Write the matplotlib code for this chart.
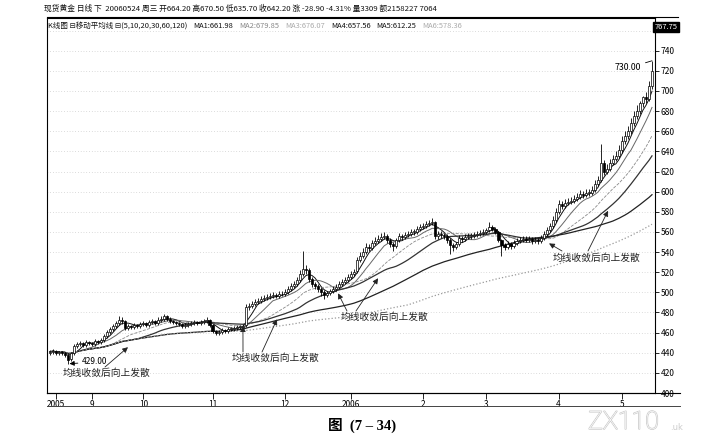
import numpy as np
import pandas as pd
import matplotlib
matplotlib.use("Agg")
import matplotlib.pyplot as plt
import matplotlib.patheffects as pe
from matplotlib.lines import Line2D

plt.rcParams['font.family'] = ['Noto Sans CJK SC', 'DejaVu Sans']

# daily candles, Aug 2005 - May 2006
opens = [
    440, 441, 442, 440, 441, 440, 438, 434, 440, 447,
    449, 450, 448, 451, 450, 449, 452, 451, 453, 457,
    461, 464, 467, 470, 473, 472, 465, 467, 466, 468,
    467, 469, 470, 468, 471, 472, 470, 473, 474, 476,
    474, 472, 471, 470, 469, 467, 468, 469, 470, 471,
    470, 471, 472, 473, 468, 462, 460, 461, 463, 462,
    464, 464, 465, 466, 466, 468, 485, 486, 488, 490,
    491, 493, 494, 495, 496, 497, 496, 498, 498, 500,
    503, 506, 508, 512, 518, 523, 522, 513, 508, 506,
    503, 500, 497, 499, 501, 503, 505, 508, 510, 512,
    515, 518, 521, 532, 536, 540, 545, 544, 549, 551,
    553, 555, 556, 552, 548, 546, 552, 556, 555, 557,
    558, 560, 560, 563, 565, 566, 568, 569, 570, 556,
    558, 557, 556, 552, 547, 545, 548, 554, 553, 555,
    556, 556, 557, 558, 559, 560, 562, 565, 563, 560,
    552, 547, 545, 548, 546, 549, 551, 552, 553, 552,
    553, 551, 552, 551, 554, 558, 562, 566, 572, 580,
    588, 586, 589, 590, 591, 593, 595, 598, 597, 599,
    599, 602, 608, 612, 628, 620, 623, 628, 632, 635,
    641, 650, 655, 660, 668, 675, 680, 688, 694, 692,
    705,
]
highs = [
    443, 444, 443, 442, 442, 441, 439, 441, 449, 451,
    452, 451, 453, 452, 451, 454, 453, 455, 459, 463,
    466, 469, 472, 476, 475, 473, 469, 468, 470, 469,
    471, 472, 471, 473, 474, 473, 475, 476, 478, 477,
    475, 473, 472, 471, 470, 470, 471, 472, 473, 472,
    473, 474, 475, 474, 469, 463, 463, 465, 464, 466,
    466, 467, 468, 468, 469, 488, 489, 491, 493, 494,
    496, 497, 498, 499, 500, 499, 501, 501, 503, 506,
    509, 511, 515, 522, 541, 527, 524, 515, 510, 508,
    505, 502, 501, 503, 506, 508, 511, 513, 515, 518,
    521, 523, 535, 540, 544, 549, 548, 552, 555, 557,
    559, 560, 558, 554, 550, 554, 559, 558, 560, 561,
    563, 563, 566, 568, 569, 571, 572, 574, 571, 561,
    561, 559, 558, 554, 549, 550, 557, 556, 558, 559,
    559, 560, 561, 562, 563, 564, 570, 567, 565, 561,
    553, 549, 551, 550, 552, 554, 555, 556, 556, 556,
    555, 555, 554, 557, 561, 565, 569, 576, 584, 592,
    591, 593, 594, 595, 597, 599, 602, 601, 603, 603,
    606, 612, 616, 647, 631, 627, 632, 636, 640, 646,
    655, 660, 665, 673, 680, 686, 690, 695, 699, 710,
    730,
]
lows = [
    438, 439, 438, 438, 438, 436, 429, 432, 438, 445,
    447, 446, 446, 448, 447, 447, 449, 449, 451, 455,
    459, 462, 465, 468, 469, 463, 463, 464, 464, 465,
    465, 467, 466, 466, 469, 468, 468, 471, 472, 472,
    470, 469, 468, 467, 465, 465, 466, 467, 468, 468,
    468, 469, 470, 466, 460, 458, 458, 459, 460, 460,
    462, 462, 463, 464, 464, 466, 482, 484, 486, 488,
    489, 491, 492, 493, 494, 494, 494, 496, 496, 498,
    501, 504, 506, 510, 516, 518, 510, 505, 503, 500,
    496, 493, 495, 497, 499, 501, 503, 506, 508, 510,
    513, 516, 519, 530, 534, 538, 541, 542, 547, 549,
    551, 553, 549, 545, 541, 544, 550, 552, 553, 555,
    556, 557, 558, 561, 563, 564, 566, 567, 553, 553,
    554, 553, 549, 538, 541, 543, 546, 550, 551, 553,
    553, 554, 555, 556, 557, 558, 560, 561, 558, 550,
    536, 542, 543, 543, 544, 547, 549, 550, 550, 550,
    548, 549, 548, 549, 552, 556, 560, 564, 570, 578,
    583, 584, 587, 588, 589, 591, 593, 594, 595, 596,
    597, 600, 606, 610, 617, 618, 621, 626, 630, 633,
    638, 647, 652, 657, 665, 672, 677, 684, 688, 690,
    702,
]
closes = [
    441, 442, 440, 441, 440, 438, 433, 440, 447, 449,
    450, 448, 451, 450, 449, 452, 451, 453, 457, 461,
    464, 467, 470, 473, 472, 465, 467, 466, 468, 467,
    469, 470, 468, 471, 472, 470, 473, 474, 476, 474,
    472, 471, 470, 469, 467, 468, 469, 470, 471, 470,
    471, 472, 473, 468, 462, 460, 461, 463, 462, 464,
    464, 465, 466, 466, 467, 485, 486, 488, 490, 491,
    493, 494, 495, 496, 497, 496, 498, 498, 500, 503,
    506, 508, 512, 518, 523, 522, 513, 508, 506, 503,
    500, 497, 499, 501, 503, 505, 508, 510, 512, 515,
    518, 520, 532, 536, 540, 545, 544, 549, 551, 553,
    555, 556, 552, 548, 546, 552, 556, 555, 557, 558,
    560, 560, 563, 565, 566, 568, 569, 570, 556, 558,
    557, 556, 552, 547, 545, 548, 554, 553, 555, 556,
    556, 557, 558, 559, 560, 562, 565, 563, 560, 552,
    547, 545, 548, 546, 549, 551, 552, 553, 552, 553,
    551, 552, 551, 554, 558, 562, 566, 572, 580, 588,
    586, 589, 590, 591, 593, 595, 598, 597, 599, 599,
    602, 608, 612, 628, 620, 623, 628, 632, 635, 641,
    650, 655, 660, 668, 675, 680, 688, 694, 692, 705,
    720,
]

month_pos = [2, 14, 31, 54, 78, 100, 124, 145, 169, 190]
month_labels = ['2005', '9', '10', '11', '12', '2006', '2', '3', '4', '5']
price_ticks = list(range(400, 741, 20))

ma_periods = [5, 10, 20, 30, 60, 120]
ma_colors = ['#111111', '#666666', '#8a8a8a', '#333333', '#222222', '#9a9a9a']
ma_styles = ['-', '-', '--', '-', '-', ':']
ma_widths = [0.7, 0.7, 0.6, 0.9, 0.9, 0.9]

note = '均线收敛后向上发散'

W, H = 710, 443
fig = plt.figure(figsize=(W / 100, H / 100), dpi=100)
ax = fig.add_axes([47 / W, 50 / H, (655 - 47) / W, (393 - 18) / H])

df = pd.DataFrame({'o': opens, 'h': highs, 'l': lows, 'c': closes})
x = np.arange(len(df))

# horizontal dotted grid
for p in range(420, 771, 20):
    ax.axhline(p, color='#bbbbbb', lw=0.5, ls=(0, (1, 3)), zorder=0)

# moving averages
for n, col, ls, lw in zip(ma_periods, ma_colors, ma_styles, ma_widths):
    ma = df['c'].rolling(n, min_periods=1).mean()
    ax.plot(x, ma, color=col, ls=ls, lw=lw, zorder=2)

# candles: up = hollow, down = filled black
up = df['c'] >= df['o']
ax.vlines(x, df['l'], df['h'], color='black', lw=0.6, zorder=3)
body_low = np.minimum(df['o'], df['c'])
body_h = np.maximum(np.abs(df['c'] - df['o']), 0.6)
ax.bar(x[up], body_h[up], bottom=body_low[up], width=0.7,
       color='white', edgecolor='black', lw=0.5, zorder=4)
ax.bar(x[~up], body_h[~up], bottom=body_low[~up], width=0.7,
       color='black', edgecolor='black', lw=0.5, zorder=4)

ax.set_xlim(-1, 201)
ax.set_ylim(400.5, 772.5)

ax.yaxis.tick_right()
ax.set_yticks(price_ticks)
ax.set_yticklabels([str(p) for p in price_ticks])
ax.tick_params(axis='y', labelsize=6, length=3, width=0.6, pad=1)
ax.set_xticks(month_pos)
ax.set_xticklabels(month_labels)
ax.tick_params(axis='x', labelsize=6, length=4, width=0.6, pad=1)
for s in ax.spines.values():
    s.set_linewidth(0.8)

# extra rules below the axis and at the top
fig.add_artist(Line2D([47 / W, 680 / W], [1 - 393 / H, 1 - 393 / H], color='black', lw=0.8))
fig.add_artist(Line2D([47 / W, 680 / W], [1 - 406 / H, 1 - 406 / H], color='#444444', lw=0.7))
fig.add_artist(Line2D([47 / W, 678 / W], [1 - 17 / H, 1 - 17 / H], color='black', lw=0.8))

# header
fig.text(44 / W, 1 - 9 / H,
         '现货黄金 日线 下  20060524 周三 开664.20 高670.50 低635.70 收642.20 涨 -28.90 -4.31% 量3309 额2158227 7064',
         fontsize=5.6, va='center', ha='left', color='#111111')

row2 = [('K线图 ⊟移动平均线 ⊟(5,10,20,30,60,120)', '#111111'),
        ('MA1:661.98', '#111111'),
        ('MA2:679.85', '#888888'),
        ('MA3:676.07', '#aaaaaa'),
        ('MA4:657.56', '#111111'),
        ('MA5:612.25', '#111111'),
        ('MA6:578.36', '#aaaaaa')]
renderer = fig.canvas.get_renderer()
px = 48
for s, col in row2:
    t = fig.text(px / W, 1 - 26 / H, s, fontsize=5.4, va='center', ha='left', color=col,
                 family=['Noto Sans CJK SC', 'DejaVu Sans'])
    px = t.get_window_extent(renderer).x1 + 6

fig.text(666 / W, 1 - 27 / H, '767.75', fontsize=5.5, color='white', ha='center', va='center',
         bbox=dict(boxstyle='square,pad=0.15', fc='black', ec='black'))

# low / high labels
ax.annotate('429.00', xy=(6, 429), xytext=(82, H - 362), textcoords='figure pixels',
            fontsize=6, va='center', ha='left',
            arrowprops=dict(arrowstyle='-|>', color='black', lw=0.6, mutation_scale=7,
                            shrinkA=1, shrinkB=1))
ax.annotate('730.00', xy=(200, 730), xytext=(615, H - 68), textcoords='figure pixels',
            fontsize=6.3, va='center', ha='left',
            arrowprops=dict(arrowstyle='-', color='black', lw=0.6, shrinkA=1, shrinkB=0))

# convergence notes
notes = [(63, 373), (232, 358), (341, 317), (553, 258)]
for nx, ny in notes:
    fig.text(nx / W, 1 - ny / H, note, fontsize=7, va='center', ha='left', color='#222222')

arrows = [((25.9, 445.5), (105, 367)),
          ((64.1, 466.3), (243, 352)),
          ((75.4, 473.2), (262, 352)),
          ((95.7, 499.0), (347, 311)),
          ((109.0, 514.0), (356, 311)),
          ((165.8, 548.6), (562, 251)),
          ((185.4, 581.0), (588, 251))]
for tip, tail in arrows:
    ax.annotate('', xy=tip, xytext=(tail[0], H - tail[1]), textcoords='figure pixels',
                arrowprops=dict(arrowstyle='-|>', color='#222222', lw=0.6, mutation_scale=8,
                                shrinkA=0, shrinkB=0))

# caption and watermark
fig.text(362 / W, 1 - 425 / H, '图  (7 – 34)', fontsize=10.5, fontweight='bold',
         ha='center', va='center', family=['Liberation Serif', 'Noto Sans CJK SC'])
fig.text(588 / W, 1 - 422 / H, 'ZX110', fontsize=18, color='white', ha='left', va='center',
         family='Roboto', fontweight='light',
         path_effects=[pe.withStroke(linewidth=1.0, foreground='#cccccc')])
fig.text(670 / W, 1 - 428 / H, '.uk', fontsize=6, color='#cccccc', ha='left', va='center',
         family='DejaVu Sans')

fig.savefig('out.png', dpi=100)
